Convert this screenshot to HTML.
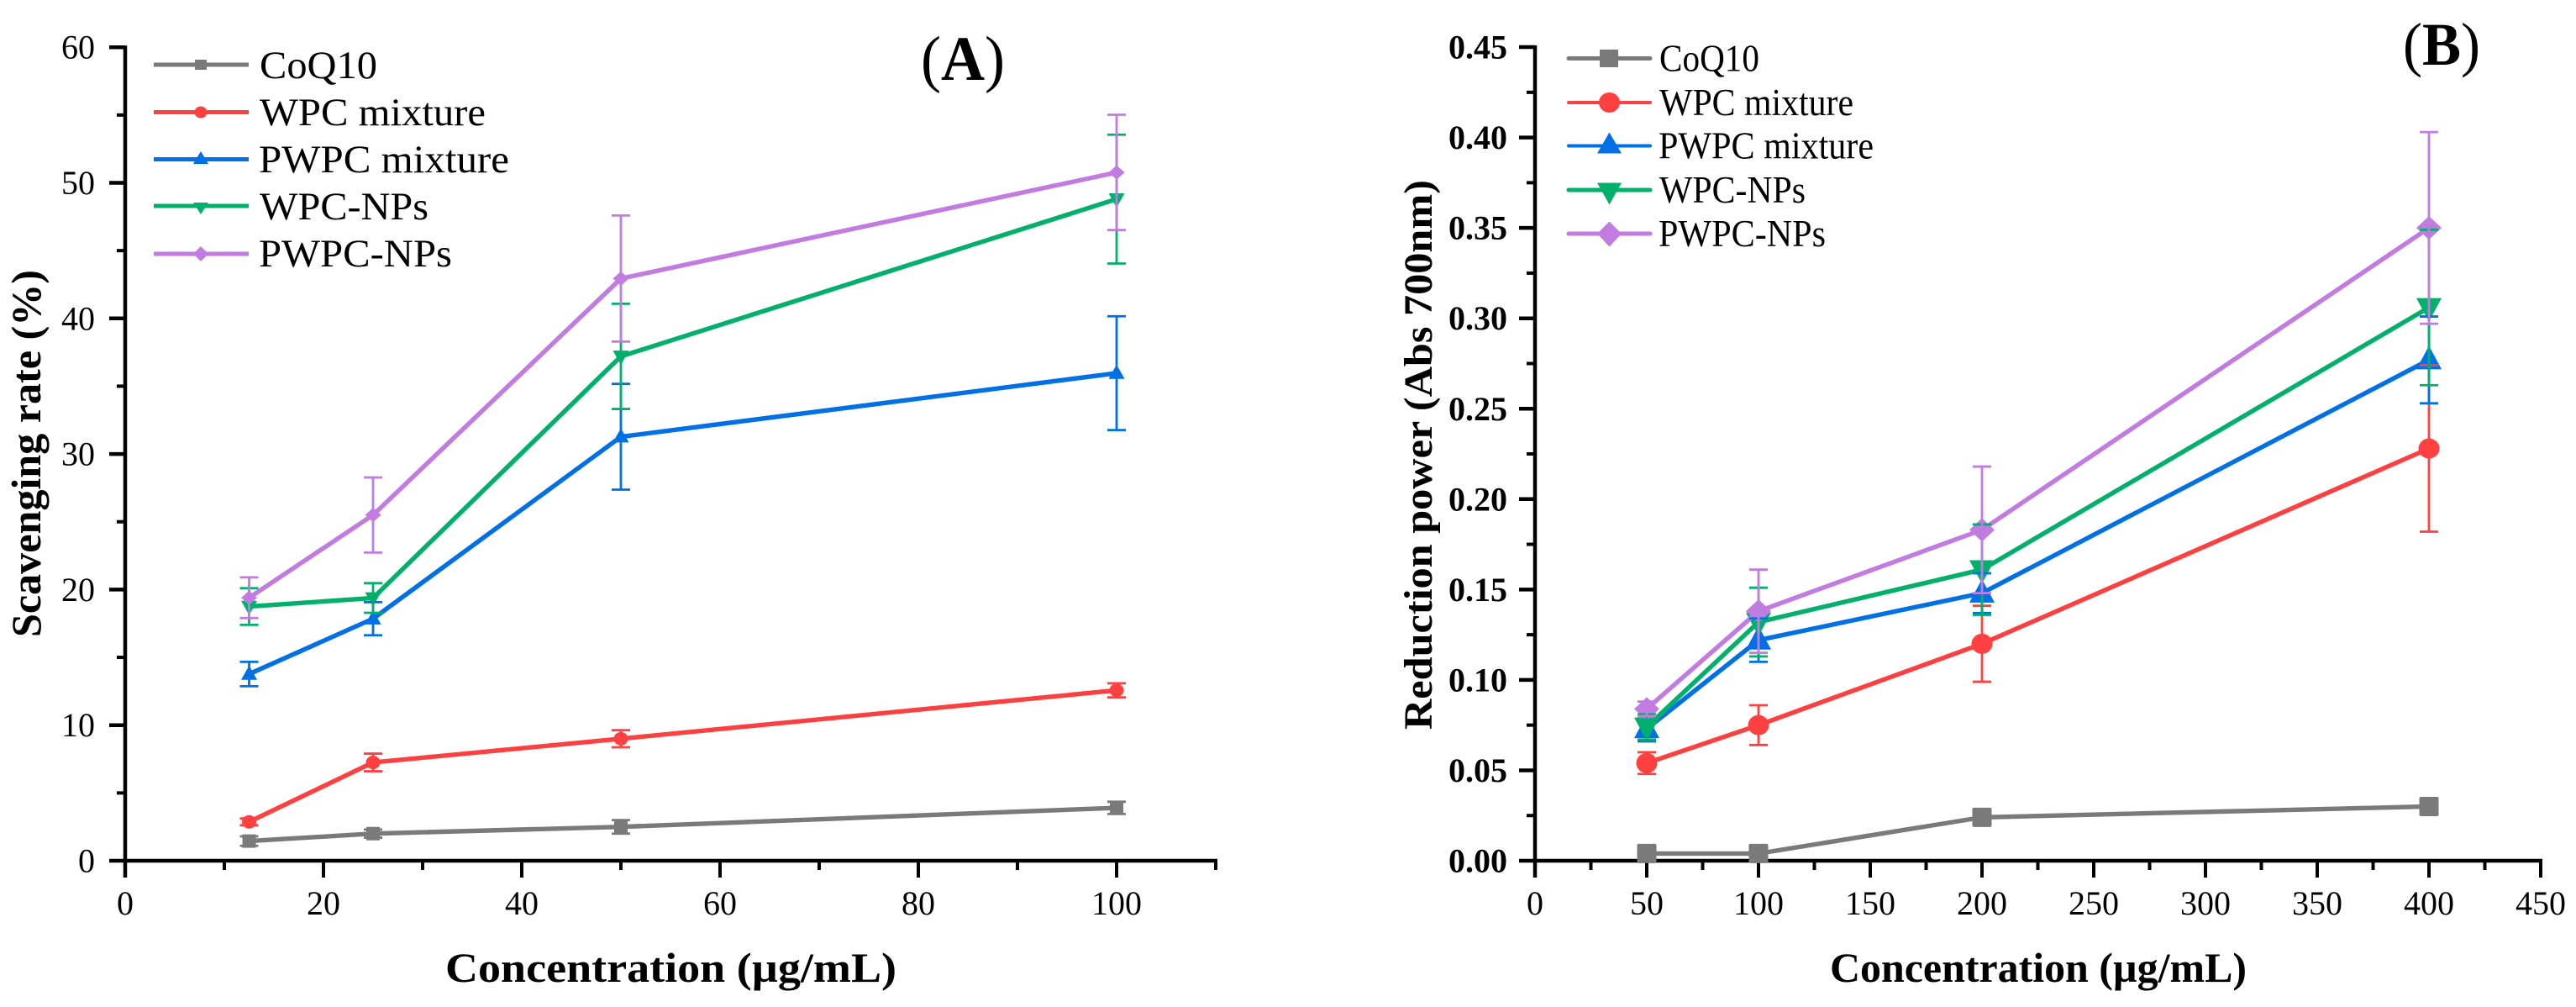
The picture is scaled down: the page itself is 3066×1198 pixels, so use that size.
<!DOCTYPE html>
<html lang="en">
<head>
<meta charset="utf-8">
<title>Scavenging rate and reduction power</title>
<style>
html,body{margin:0;padding:0;background:#fff;}
body{width:3066px;height:1198px;overflow:hidden;}
svg{display:block;}
text{font-family:"Liberation Serif",serif;fill:#000;}
.b{font-weight:bold;}
.lg{font-size:47px;}
.lgb{font-size:45px;}
</style>
</head>
<body>
<svg id="figure" xmlns="http://www.w3.org/2000/svg" width="3066" height="1198" viewBox="0 0 3066 1198">
  <g id="panelA">
    <text x="1096" y="95" font-size="75" textLength="100" lengthAdjust="spacingAndGlyphs">(<tspan class="b">A</tspan>)</text>
    <text class="b" font-size="50" transform="translate(48,758) rotate(-90)" textLength="437" lengthAdjust="spacingAndGlyphs">Scavenging rate (%)</text>
    <text class="b" font-size="50" x="530" y="1168" textLength="537" lengthAdjust="spacingAndGlyphs">Concentration (µg/mL)</text>
    <g>
      <g>
        <line x1="183" y1="77" x2="296" y2="77" stroke="#7a7a7a" stroke-width="5"/>
        <rect x="232" y="71" width="14" height="12" fill="#7a7a7a"/>
        <text class="lg" x="309" y="93" textLength="140" lengthAdjust="spacingAndGlyphs">CoQ10</text>
      </g>
      <g>
        <line x1="183" y1="133.500" x2="296" y2="133.500" stroke="#ff4040" stroke-width="5"/>
        <ellipse cx="239" cy="133.500" rx="7.500" ry="7" fill="#ff4040"/>
        <text class="lg" x="309" y="149" textLength="269" lengthAdjust="spacingAndGlyphs">WPC mixture</text>
      </g>
      <g>
        <line x1="183" y1="189.500" x2="296" y2="189.500" stroke="#0070e6" stroke-width="5"/>
        <polygon points="230,195 248,195 239,180" fill="#0070e6"/>
        <text class="lg" x="308" y="205" textLength="298" lengthAdjust="spacingAndGlyphs">PWPC mixture</text>
      </g>
      <g>
        <line x1="183" y1="245" x2="296" y2="245" stroke="#00b06b" stroke-width="5"/>
        <polygon points="230,241 248,241 239,255" fill="#00b06b"/>
        <text class="lg" x="309" y="261" textLength="201" lengthAdjust="spacingAndGlyphs">WPC-NPs</text>
      </g>
      <g>
        <line x1="183" y1="302" x2="296" y2="302" stroke="#c27be0" stroke-width="5"/>
        <polygon points="230,302 239,293 248,302 239,311" fill="#c27be0"/>
        <text class="lg" x="308" y="317" textLength="230" lengthAdjust="spacingAndGlyphs">PWPC-NPs</text>
      </g>
    </g>
  </g>
  <g id="panelB">
    <text x="2860" y="77" font-size="72" textLength="92" lengthAdjust="spacingAndGlyphs">(<tspan class="b">B</tspan>)</text>
    <text class="b" font-size="48" transform="translate(1704,868) rotate(-90)" textLength="654" lengthAdjust="spacingAndGlyphs">Reduction power (Abs 700nm)</text>
    <text class="b" font-size="50" x="2178" y="1168" textLength="496" lengthAdjust="spacingAndGlyphs">Concentration (µg/mL)</text>
    <g>
      <g>
        <line x1="1867" y1="69.500" x2="1964" y2="69.500" stroke="#7a7a7a" stroke-width="5" stroke-linecap="round"/>
        <rect x="1904" y="59" width="22" height="21" fill="#7a7a7a"/>
        <text class="lgb" x="1975" y="84.500" textLength="119" lengthAdjust="spacingAndGlyphs">CoQ10</text>
      </g>
      <g>
        <line x1="1867" y1="122" x2="1964" y2="122" stroke="#ff4040" stroke-width="4" stroke-linecap="round"/>
        <ellipse cx="1915.500" cy="122" rx="12.500" ry="12" fill="#ff4040"/>
        <text class="lgb" x="1975" y="137" textLength="231" lengthAdjust="spacingAndGlyphs">WPC mixture</text>
      </g>
      <g>
        <line x1="1867" y1="173.500" x2="1964" y2="173.500" stroke="#0070e6" stroke-width="4" stroke-linecap="round"/>
        <polygon points="1901,182.500 1930,182.500 1915.500,157.500" fill="#0070e6"/>
        <text class="lgb" x="1974" y="188.500" textLength="256" lengthAdjust="spacingAndGlyphs">PWPC mixture</text>
      </g>
      <g>
        <line x1="1867" y1="226" x2="1964" y2="226" stroke="#00b06b" stroke-width="5" stroke-linecap="round"/>
        <polygon points="1901,217.500 1930,217.500 1915.500,243.500" fill="#00b06b"/>
        <text class="lgb" x="1975" y="241" textLength="174" lengthAdjust="spacingAndGlyphs">WPC-NPs</text>
      </g>
      <g>
        <line x1="1867" y1="278" x2="1964" y2="278" stroke="#c27be0" stroke-width="5" stroke-linecap="round"/>
        <polygon points="1901,278 1915.500,263.500 1930,278 1915.500,293.500" fill="#c27be0"/>
        <text class="lgb" x="1974" y="293" textLength="199" lengthAdjust="spacingAndGlyphs">PWPC-NPs</text>
      </g>
    </g>
  </g>
</svg>
<script>
// Shared series descriptors
const seriesNames = ['coq10', 'wpc-mixture', 'pwpc-mixture', 'wpc-nps', 'pwpc-nps'];
const seriesColors = ['#7a7a7a', '#ff4040', '#0070e6', '#00b06b', '#c27be0'];
const seriesMarkers = ['square', 'circle', 'up', 'down', 'diamond'];

// Panel A data
const concA = [12.5, 25, 50, 100];
const coq10A = [1.45, 2.0, 2.5, 3.9];
const coq10AErr = [0.35, 0.3, 0.5, 0.45];
const wpcMixA = [2.87, 7.25, 9.0, 12.57];
const wpcMixAErr = [0.25, 0.65, 0.63, 0.52];
const pwpcMixA = [13.77, 17.85, 31.27, 35.96];
const pwpcMixAErr = [0.9, 1.22, 3.9, 4.2];
const wpcNpA = [18.75, 19.38, 37.2, 48.8];
const wpcNpAErr = [1.35, 1.09, 3.88, 4.75];
const pwpcNpA = [19.4, 25.5, 42.94, 50.77];
const pwpcNpAErr = [1.5, 2.77, 4.65, 4.25];
const xTicksA = [0, 20, 40, 60, 80, 100];
const xMinorA = [10, 30, 50, 70, 90, 110];
const yTicksA = [0, 10, 20, 30, 40, 50, 60];
const yMinorA = [5, 15, 25, 35, 45, 55];
const yLabelsA = ['0', '10', '20', '30', '40', '50', '60'];

// Panel B data
const concB = [50, 100, 200, 400];
const coq10B = [0.004, 0.004, 0.024, 0.03];
const coq10BErr = [0.001, 0.001, 0.002, 0.002];
const wpcMixB = [0.054, 0.075, 0.12, 0.228];
const wpcMixBErr = [0.006, 0.011, 0.021, 0.046];
const pwpcMixB = [0.073, 0.122, 0.148, 0.277];
const pwpcMixBErr = [0.007, 0.012, 0.011, 0.024];
const wpcNpB = [0.074, 0.132, 0.161, 0.306];
const wpcNpBErr = [0.007, 0.019, 0.025, 0.043];
const pwpcNpB = [0.084, 0.138, 0.183, 0.35];
const pwpcNpBErr = [0.004, 0.023, 0.035, 0.053];
const xTicksB = [0, 50, 100, 150, 200, 250, 300, 350, 400, 450];
const xMinorB = [25, 75, 125, 175, 225, 275, 325, 375, 425];
const yTicksB = [0, 0.05, 0.1, 0.15, 0.2, 0.25, 0.3, 0.35, 0.4, 0.45];
const yMinorB = [0.025, 0.075, 0.125, 0.175, 0.225, 0.275, 0.325, 0.375, 0.425];
const yLabelsB = ['0.00', '0.05', '0.10', '0.15', '0.20', '0.25', '0.30', '0.35', '0.40', '0.45'];

const NS = 'http://www.w3.org/2000/svg';

function make(parent, tag, attrs) {
  const el = document.createElementNS(NS, tag);
  for (const k in attrs) el.setAttribute(k, attrs[k]);
  parent.appendChild(el);
  return el;
}

function drawMarker(parent, kind, cx, cy, size, color, label) {
  const w = size.w, h = size.h;
  let el;
  if (kind === 'square') {
    el = make(parent, 'rect', {x: cx - size.s / 2, y: cy - size.s / 2, width: size.s, height: size.s, rx: size.s > 20 ? 2 : 0, fill: color});
  } else if (kind === 'circle') {
    el = make(parent, 'ellipse', {cx: cx, cy: cy, rx: size.c, ry: size.c - 0.5, fill: color});
  } else if (kind === 'up') {
    el = make(parent, 'polygon', {points: (cx - w / 2) + ',' + (cy + h * 0.4) + ' ' + (cx + w / 2) + ',' + (cy + h * 0.4) + ' ' + cx + ',' + (cy - h * 0.6), fill: color});
  } else if (kind === 'down') {
    el = make(parent, 'polygon', {points: (cx - w / 2) + ',' + (cy - h * 0.4) + ' ' + (cx + w / 2) + ',' + (cy - h * 0.4) + ' ' + cx + ',' + (cy + h * 0.6), fill: color});
  } else {
    el = make(parent, 'polygon', {points: (cx - w / 2) + ',' + cy + ' ' + cx + ',' + (cy - h / 2) + ' ' + (cx + w / 2) + ',' + cy + ' ' + cx + ',' + (cy + h / 2), fill: color});
  }
  
  
}

function drawPanel(root, cfg) {
  const xPos = v => cfg.x0 + v * cfg.xScale;
  const yPos = v => cfg.yBase - v * cfg.yScale;
  const xMax = xPos(cfg.xEnd);
  const yMax = yPos(cfg.yEnd);

  const axes = make(root, 'g', {});
  
  

  const yAxis = make(axes, 'line', {x1: cfg.x0, y1: yMax - 2, x2: cfg.x0, y2: cfg.yBase + 20, stroke: '#000', 'stroke-width': 4.5});
  
  
  const xAxis = make(axes, 'line', {x1: cfg.x0, y1: cfg.yBase, x2: xMax + 2, y2: cfg.yBase, stroke: '#000', 'stroke-width': 4.5});
  
  

  cfg.yTicks.forEach((v, i) => {
    const t = make(axes, 'line', {x1: cfg.x0 - 19, y1: yPos(v), x2: cfg.x0, y2: yPos(v), stroke: '#000', 'stroke-width': 4.5});
    
    
    const lab = make(axes, 'text', {x: cfg.x0 - cfg.yLabelGap, y: yPos(v) + 13.5, 'text-anchor': 'end', 'font-size': 40, 'font-weight': cfg.yBold ? 'bold' : 'normal'});
    
    
    lab.textContent = cfg.yLabels[i];
  });
  cfg.yMinor.forEach(v => {
    const t = make(axes, 'line', {x1: cfg.x0 - 10, y1: yPos(v), x2: cfg.x0, y2: yPos(v), stroke: '#000', 'stroke-width': 4});
    
    
  });
  cfg.xTicks.forEach(v => {
    const t = make(axes, 'line', {x1: xPos(v), y1: cfg.yBase, x2: xPos(v), y2: cfg.yBase + 20, stroke: '#000', 'stroke-width': 4});
    
    
    const lab = make(axes, 'text', {x: xPos(v), y: 1088, 'text-anchor': 'middle', 'font-size': 40});
    
    
    lab.textContent = String(v);
  });
  cfg.xMinor.forEach(v => {
    const t = make(axes, 'line', {x1: xPos(v), y1: cfg.yBase, x2: xPos(v), y2: cfg.yBase + 11, stroke: '#000', 'stroke-width': 4});
    
    
  });

  cfg.series.forEach((vals, s) => {
    const color = seriesColors[s];
    const pts = vals.map((v, i) => xPos(cfg.conc[i]) + ',' + yPos(v)).join(' ');
    const line = make(root, 'polyline', {points: pts, fill: 'none', stroke: color, 'stroke-width': 5.4, 'stroke-linejoin': 'round'});
    
    
    vals.forEach((v, i) => {
      drawMarker(root, seriesMarkers[s], xPos(cfg.conc[i]), yPos(v), cfg.marker, color, 'point-' + seriesNames[s]);
    });
  });

  cfg.series.forEach((vals, s) => {
    const color = seriesColors[s];
    vals.forEach((v, i) => {
      const e = cfg.errors[s][i];
      const cx = xPos(cfg.conc[i]);
      const g = make(root, 'g', {stroke: color, fill: 'none'});
      
      
      make(g, 'line', {x1: cx, y1: yPos(v + e), x2: cx, y2: yPos(v - e), 'stroke-width': 2.8});
      make(g, 'line', {x1: cx - 11, y1: yPos(v + e), x2: cx + 11, y2: yPos(v + e), 'stroke-width': 2.8});
      make(g, 'line', {x1: cx - 11, y1: yPos(v - e), x2: cx + 11, y2: yPos(v - e), 'stroke-width': 2.8});
    });
  });
}

drawPanel(document.getElementById('panelA'), {
  x0: 149, xScale: 11.8, yBase: 1024, yScale: 16.13, xEnd: 110, yEnd: 60,
  yLabelGap: 36, yBold: false,
  conc: concA,
  series: [coq10A, wpcMixA, pwpcMixA, wpcNpA, pwpcNpA],
  errors: [coq10AErr, wpcMixAErr, pwpcMixAErr, wpcNpAErr, pwpcNpAErr],
  xTicks: xTicksA, xMinor: xMinorA, yTicks: yTicksA, yMinor: yMinorA, yLabels: yLabelsA,
  marker: {w: 19, h: 17, s: 16, c: 8.5}
});

drawPanel(document.getElementById('panelB'), {
  x0: 1827, xScale: 2.66, yBase: 1024, yScale: 2151, xEnd: 450, yEnd: 0.45,
  yLabelGap: 33, yBold: true,
  conc: concB,
  series: [coq10B, wpcMixB, pwpcMixB, wpcNpB, pwpcNpB],
  errors: [coq10BErr, wpcMixBErr, pwpcMixBErr, wpcNpBErr, pwpcNpBErr],
  xTicks: xTicksB, xMinor: xMinorB, yTicks: yTicksB, yMinor: yMinorB, yLabels: yLabelsB,
  marker: {w: 30, h: 28, s: 23, c: 12.5}
});
</script>
</body>
</html>
